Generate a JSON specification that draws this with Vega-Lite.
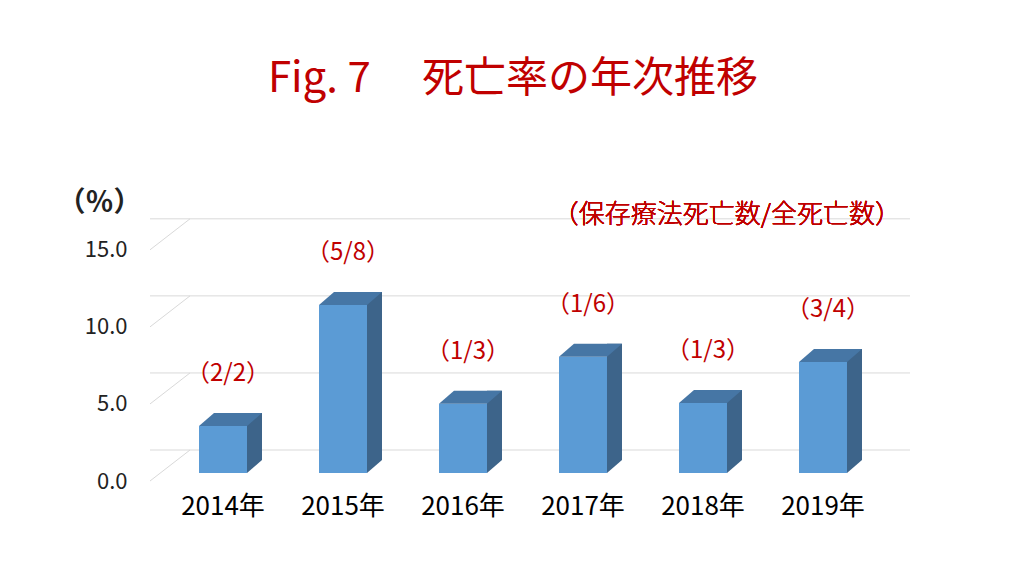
{
  "$schema": "https://vega.github.io/schema/vega-lite/v6.json",
  "width": 760,
  "height": 262,
  "autosize": {"type": "none"},
  "padding": {"left": 150, "top": 219, "right": 114, "bottom": 95},
  "background": "white",
  "title": {
    "text": "Fig. 7　  死亡率の年次推移",
    "font": "Noto Sans CJK JP",
    "fontSize": 42,
    "fontWeight": "normal",
    "color": "#c00000",
    "anchor": "middle",
    "dx": -17,
    "offset": 88
  },
  "config": {"view": {"stroke": null}, "font": "Noto Sans CJK JP"},
  "data": {
    "values": [
      {"year": "2014年", "rate": 3.05, "label": "（2/2）"},
      {"year": "2015年", "rate": 10.9, "label": "（5/8）"},
      {"year": "2016年", "rate": 4.5, "label": "（1/3）"},
      {"year": "2017年", "rate": 7.55, "label": "（1/6）"},
      {"year": "2018年", "rate": 4.55, "label": "（1/3）"},
      {"year": "2019年", "rate": 7.2, "label": "（3/4）"}
    ]
  },
  "layer": [
    {
      "data": {"values": [{"g": 0}, {"g": 5}, {"g": 10}, {"g": 15}]},
      "mark": {"type": "rule", "color": "#d9d9d9", "strokeWidth": 1, "xOffset": 0, "x2Offset": 40, "yOffset": -31},
      "encoding": {"y": {"field": "g", "type": "quantitative"}}
    },
    {
      "data": {"values": [{"g": 0}, {"g": 5}, {"g": 10}, {"g": 15}]},
      "mark": {"type": "point", "shape": "M-73,0L-33,-31", "size": 4, "filled": false, "stroke": "#d9d9d9", "strokeWidth": 1, "opacity": 1},
      "encoding": {
        "x": {"datum": "2014年", "type": "nominal"},
        "y": {"field": "g", "type": "quantitative"}
      }
    },
    {
      "mark": {"type": "bar", "width": 48, "color": "#5b9bd5", "yOffset": -8, "y2Offset": -8},
      "encoding": {
        "x": {
          "field": "year",
          "type": "nominal",
          "scale": {"paddingInner": 0, "paddingOuter": 0.16667, "align": 0.325},
          "axis": {"title": null, "labelFontSize": 26, "labelColor": "#000000", "labelPadding": 12, "labelAlign": "center", "labelBaseline": "top", "ticks": false, "domain": false, "labelAngle": 0, "grid": false}
        },
        "y": {
          "field": "rate",
          "type": "quantitative",
          "scale": {"domain": [0, 17], "nice": false},
          "axis": {
            "values": [0, 5, 10, 15],
            "format": ".1f",
            "labelFontSize": 22,
            "labelColor": "#222222",
            "labelPadding": 23,
            "ticks": false,
            "domain": false,
            "grid": false,
            "title": "（％）",
            "titleAngle": 0,
            "titleX": -51,
            "titleY": -16,
            "titleAlign": "center",
            "titleBaseline": "middle",
            "titleFontSize": 28,
            "titleFontWeight": "bold",
            "titleColor": "#222222"
          }
        }
      }
    },
    {
      "mark": {"type": "bar", "width": 15, "color": "#3d648a", "xOffset": 31.5, "yOffset": -21, "y2Offset": -21},
      "encoding": {
        "x": {"field": "year", "type": "nominal"},
        "y": {"field": "rate", "type": "quantitative"}
      }
    },
    {
      "mark": {"type": "point", "shape": "M24,-21L24,-8L39,-21Z", "size": 4, "filled": true, "color": "#3d648a", "opacity": 1},
      "encoding": {
        "x": {"field": "year", "type": "nominal"},
        "y": {"datum": 0, "type": "quantitative"}
      }
    },
    {
      "mark": {"type": "point", "shape": "M-24,-8L24,-8L39,-21L-9,-21Z", "size": 4, "filled": true, "color": "#4676a5", "opacity": 1},
      "encoding": {
        "x": {"field": "year", "type": "nominal"},
        "y": {"field": "rate", "type": "quantitative"}
      }
    },
    {
      "mark": {"type": "text", "font": "Noto Sans CJK JP", "color": "#c00000", "fontSize": 24, "fontWeight": "normal", "dx": 5, "dy": -60, "baseline": "middle"},
      "encoding": {
        "x": {"field": "year", "type": "nominal"},
        "y": {"field": "rate", "type": "quantitative"},
        "text": {"field": "label"}
      }
    },
    {
      "mark": {"type": "text", "font": "Noto Sans CJK JP", "text": "（保存療法死亡数/全死亡数）", "color": "#c00000", "fontSize": 26, "fontWeight": 300, "align": "right", "baseline": "middle", "dx": 78, "dy": -4},
      "encoding": {
        "x": {"datum": "2019年", "type": "nominal"},
        "y": {"datum": 17, "type": "quantitative"}
      }
    }
  ]
}
